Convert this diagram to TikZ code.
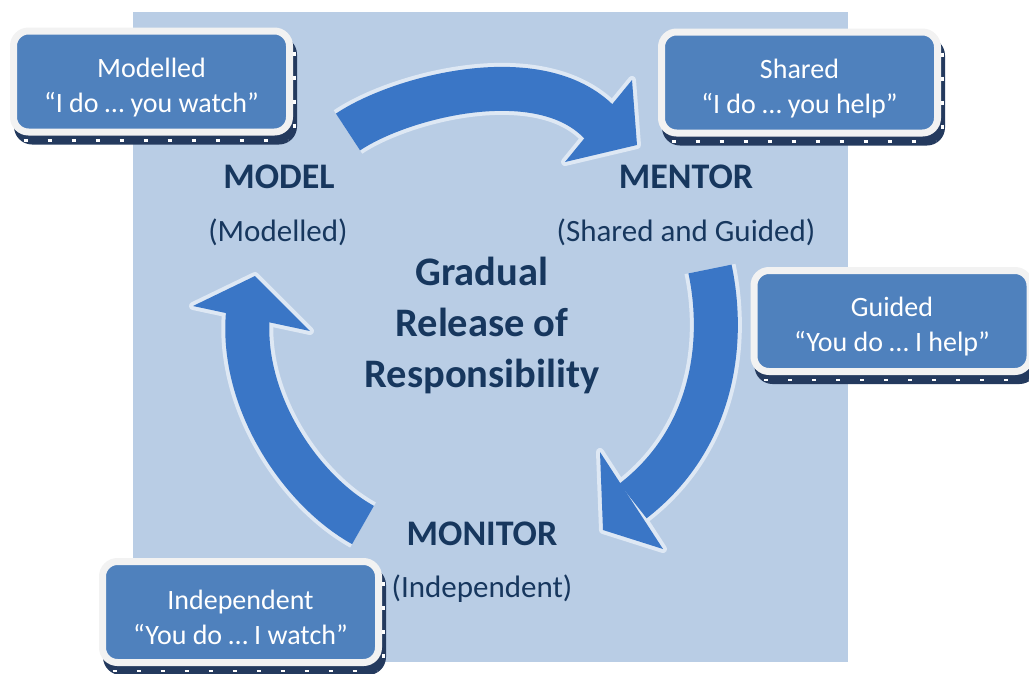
\documentclass[tikz,border=0pt]{standalone}
\usepackage{fontspec}
\setmainfont{Carlito}
\usepackage{tikz}
\definecolor{bgblue}{RGB}{185,205,229}
\definecolor{boxblue}{RGB}{79,129,189}
\definecolor{rimwhite}{RGB}{242,242,242}
\definecolor{shadenavy}{RGB}{36,58,94}
\definecolor{textnavy}{RGB}{23,55,94}
\definecolor{arrowblue}{RGB}{58,118,198}
\definecolor{glowblue}{RGB}{222,232,244}
\tikzstyle{stage}=[rectangle, rounded corners=15pt, fill=boxblue, draw=rimwhite, line width=7pt, minimum width=276pt, minimum height=101pt, inner sep=0pt, align=center, text=white, text height=66pt, font=\fontsize{28}{35}\selectfont]
\tikzstyle{plate}=[fill=shadenavy, rounded corners=18pt]
\tikzstyle{ticks}=[draw=white, line width=2.5pt, dash pattern=on 4pt off 20pt]
\tikzstyle{phase}=[anchor=base, text=textnavy, font=\bfseries\fontsize{36}{40}\selectfont]
\tikzstyle{phasesub}=[anchor=base, text=textnavy, font=\fontsize{31}{36}\selectfont]
\tikzstyle{title}=[align=center, text=textnavy, font=\bfseries\fontsize{40.5}{51}\selectfont]
\tikzstyle{glow}=[draw=glowblue, line width=52pt]
\tikzstyle{band}=[draw=arrowblue, line width=44pt]
\tikzstyle{glowhead}=[fill=glowblue, draw=glowblue, line width=8pt, line join=round]
\tikzstyle{head}=[fill=arrowblue]
\begin{document}
\begin{tikzpicture}[x=1pt, y=1pt, yscale=-1]
\useasboundingbox (0,0) rectangle (1029,673);
\fill[bgblue] (133,12) rectangle (848,662);
\foreach \n/\x/\y/\a/\b in {modelled/151.5/81.5/Modelled/{“I do … you watch”}, shared/799.5/82.5/Shared/{“I do … you help”}, guided/892/321/Guided/{“You do … I help”}, independent/240.5/612/Independent/{“You do … I watch”}}{
	\fill[plate] (\x-137.5,\y-45) rectangle (\x+145.5,\y+63);
	\draw[ticks] (\x-128,\y+59) -- (\x+136,\y+59);
	\draw[ticks] (\x+143,\y-30) -- (\x+143,\y+52);
	\node[stage] (\n) at (\x,\y) {\a\\\b};
}
\draw[glow] (348,132) .. controls (400,97) and (540,60) .. (600,123);
\filldraw[glowhead] (632,80) -- (637,145) -- (565,162) -- cycle;
\draw[band] (348,132) .. controls (400,97) and (540,60) .. (600,123);
\fill[head] (632,80) -- (637,145) -- (565,162) -- cycle;
\draw[glow] (710,269) .. controls (726,345) and (712,440) .. (633,501);
\filldraw[glowhead] (600,452) -- (603,530) -- (663,549) -- cycle;
\draw[band] (710,269) .. controls (726,345) and (712,440) .. (633,501);
\fill[head] (600,452) -- (603,530) -- (663,549) -- cycle;
\draw[glow] (363,525) .. controls (300,490) and (240,400) .. (248,313);
\filldraw[glowhead] (193,306) -- (255,276) -- (310,331) -- cycle;
\draw[band] (363,525) .. controls (300,490) and (240,400) .. (248,313);
\fill[head] (193,306) -- (255,276) -- (310,331) -- cycle;
\node[phase] (model) at (279,188) {MODEL};
\node[phasesub] (modelnote) at (278,241) {(Modelled)};
\node[phase] (mentor) at (686,188) {MENTOR};
\node[phasesub] (mentornote) at (686,241) {(Shared and Guided)};
\node[phase] (monitor) at (482,545) {MONITOR};
\node[phasesub] (monitornote) at (482,597) {(Independent)};
\node[title] (release) at (482,325) {Gradual\\Release of\\Responsibility};
\end{tikzpicture}
\end{document}
